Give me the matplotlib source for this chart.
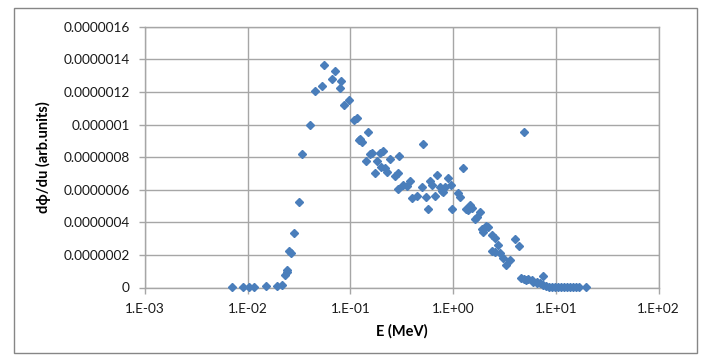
import numpy as np
import matplotlib
matplotlib.use("Agg")
import matplotlib.pyplot as plt
from matplotlib.patches import Rectangle
from matplotlib.ticker import FixedLocator, FixedFormatter, FuncFormatter, NullLocator

plt.rcParams["font.family"] = ["Lato", "DejaVu Sans"]

# energy (MeV) and dphi/du (units of 1e-7, arb.)
energy = [
    0.0070, 0.0090, 0.0103, 0.0115, 0.0151, 0.0191, 0.0215, 0.0231, 0.0239, 0.0244,
    0.0255, 0.0265, 0.0281, 0.0315, 0.0337, 0.0400, 0.0453, 0.0524, 0.0557, 0.0664,
    0.0709, 0.0789, 0.0819, 0.0857, 0.0970, 0.1087, 0.1147, 0.1215, 0.130, 0.1248,
    0.1477, 0.141, 0.1545, 0.1616, 0.182, 0.1717, 0.193, 0.2066, 0.2007, 0.2163,
    0.2297, 0.242, 0.2979, 0.2705, 0.2912, 0.2877, 0.3258, 0.3597, 0.3786, 0.4024,
    0.4461, 0.5105, 0.4955, 0.542, 0.570, 0.593, 0.627, 0.667, 0.698, 0.741,
    0.771, 0.800, 0.830, 0.894, 0.964, 0.986, 1.111, 1.175, 1.256, 1.330,
    1.455, 1.511, 1.400, 1.690, 1.820, 1.626, 1.891, 2.105, 1.960, 2.190,
    2.366, 2.548, 2.706, 2.37, 2.55, 2.851, 3.03, 3.28, 3.61, 3.99,
    4.39, 4.86,
    4.63, 4.88, 5.10, 5.37, 5.80, 6.01, 6.49, 6.99, 7.52, 6.58,
    7.46, 7.98, 8.54, 9.14, 9.78, 10.45, 11.2, 11.9, 12.8, 13.7,
    14.6, 15.6, 16.7, 19.6,
]
dphi_du = [
    0.03, 0.03, 0.03, 0.03, 0.07, 0.07, 0.17, 0.75, 0.97, 1.07,
    2.26, 2.12, 3.33, 5.25, 8.21, 9.99, 12.07, 12.38, 13.65, 12.81,
    13.26, 12.22, 12.69, 11.2, 11.5, 10.28, 10.42, 9.05, 8.94, 9.14,
    9.52, 7.78, 8.17, 8.23, 7.78, 7.04, 8.23, 8.39, 7.37, 7.35,
    7.09, 7.9, 8.09, 6.84, 7.01, 6.02, 6.29, 6.23, 6.53, 5.51,
    5.63, 8.83, 6.18, 5.58, 4.83, 6.53, 6.29, 5.6, 6.92, 6.18,
    5.95, 5.88, 6.17, 6.69, 6.29, 4.8, 5.78, 5.57, 7.31, 4.8,
    5.06, 4.86, 4.75, 4.34, 4.65, 4.18, 3.57, 3.8, 3.42, 3.71,
    3.22, 3.02, 2.59, 2.24, 2.2, 2.12, 1.79, 1.38, 1.66, 2.98,
    2.55, 9.51,
    0.56, 0.52, 0.46, 0.50, 0.46, 0.36, 0.29, 0.26, 0.72, 0.34,
    0.15, 0.09, 0.06, 0.03, 0.02, 0.02, 0.02, 0.02, 0.02, 0.02,
    0.02, 0.02, 0.02, 0.02,
]
x_ticks = [1e-3, 1e-2, 1e-1, 1e0, 1e1, 1e2]
y_ticks = [0, 2e-7, 4e-7, 6e-7, 8e-7, 1e-6, 1.2e-6, 1.4e-6, 1.6e-6]
y_ticklabels = ["0", "0.0000002", "0.0000004", "0.0000006", "0.0000008",
                "0.000001", "0.0000012", "0.0000014", "0.0000016"]

W, H = 704, 360
fig = plt.figure(figsize=(W / 100, H / 100), dpi=100)
ax = fig.add_axes([145 / W, 1 - 287.5 / H, (658.5 - 145) / W, (287.5 - 26.7) / H])

GRID = "#A6A6A6"
ax.plot(energy, np.array(dphi_du) * 1e-7, ls="none", marker="D", ms=4.1,
        color="#4A7EBB", mec="#4A7EBB", zorder=3, clip_on=False)

ax.set_xscale("log")
ax.set_xlim(1e-3, 1e2)
ax.set_ylim(0, 1.6e-6)
ax.xaxis.set_major_locator(FixedLocator(x_ticks))
ax.xaxis.set_minor_locator(NullLocator())
ax.xaxis.set_major_formatter(FuncFormatter(lambda v, p: f"1.E{int(round(np.log10(v))):+03d}"))
ax.yaxis.set_major_locator(FixedLocator(y_ticks))
ax.yaxis.set_major_formatter(FixedFormatter(y_ticklabels))

ax.grid(True, color=GRID, lw=1.0)
ax.set_axisbelow(True)
for s in ax.spines.values():
    s.set_color(GRID)
    s.set_linewidth(1.0)
ax.tick_params(axis="both", which="major", direction="out", length=4, width=1.0,
               color=GRID, labelsize=9.8, labelcolor="#1a1a1a")
ax.tick_params(axis="y", pad=7)
ax.tick_params(axis="x", pad=7)

ax.set_xlabel("E (MeV)", fontsize=10.5, fontweight="bold", labelpad=7)
ax.set_ylabel("dϕ/du (arb.units)", fontsize=10.5, fontweight="bold", labelpad=9)

fig.add_artist(Rectangle((14 / W, 1 - 353 / H), (697 - 14) / W, (353 - 8) / H,
                         transform=fig.transFigure, fill=False, ec="#868686", lw=1.0))

fig.savefig("out.png", dpi=100)
